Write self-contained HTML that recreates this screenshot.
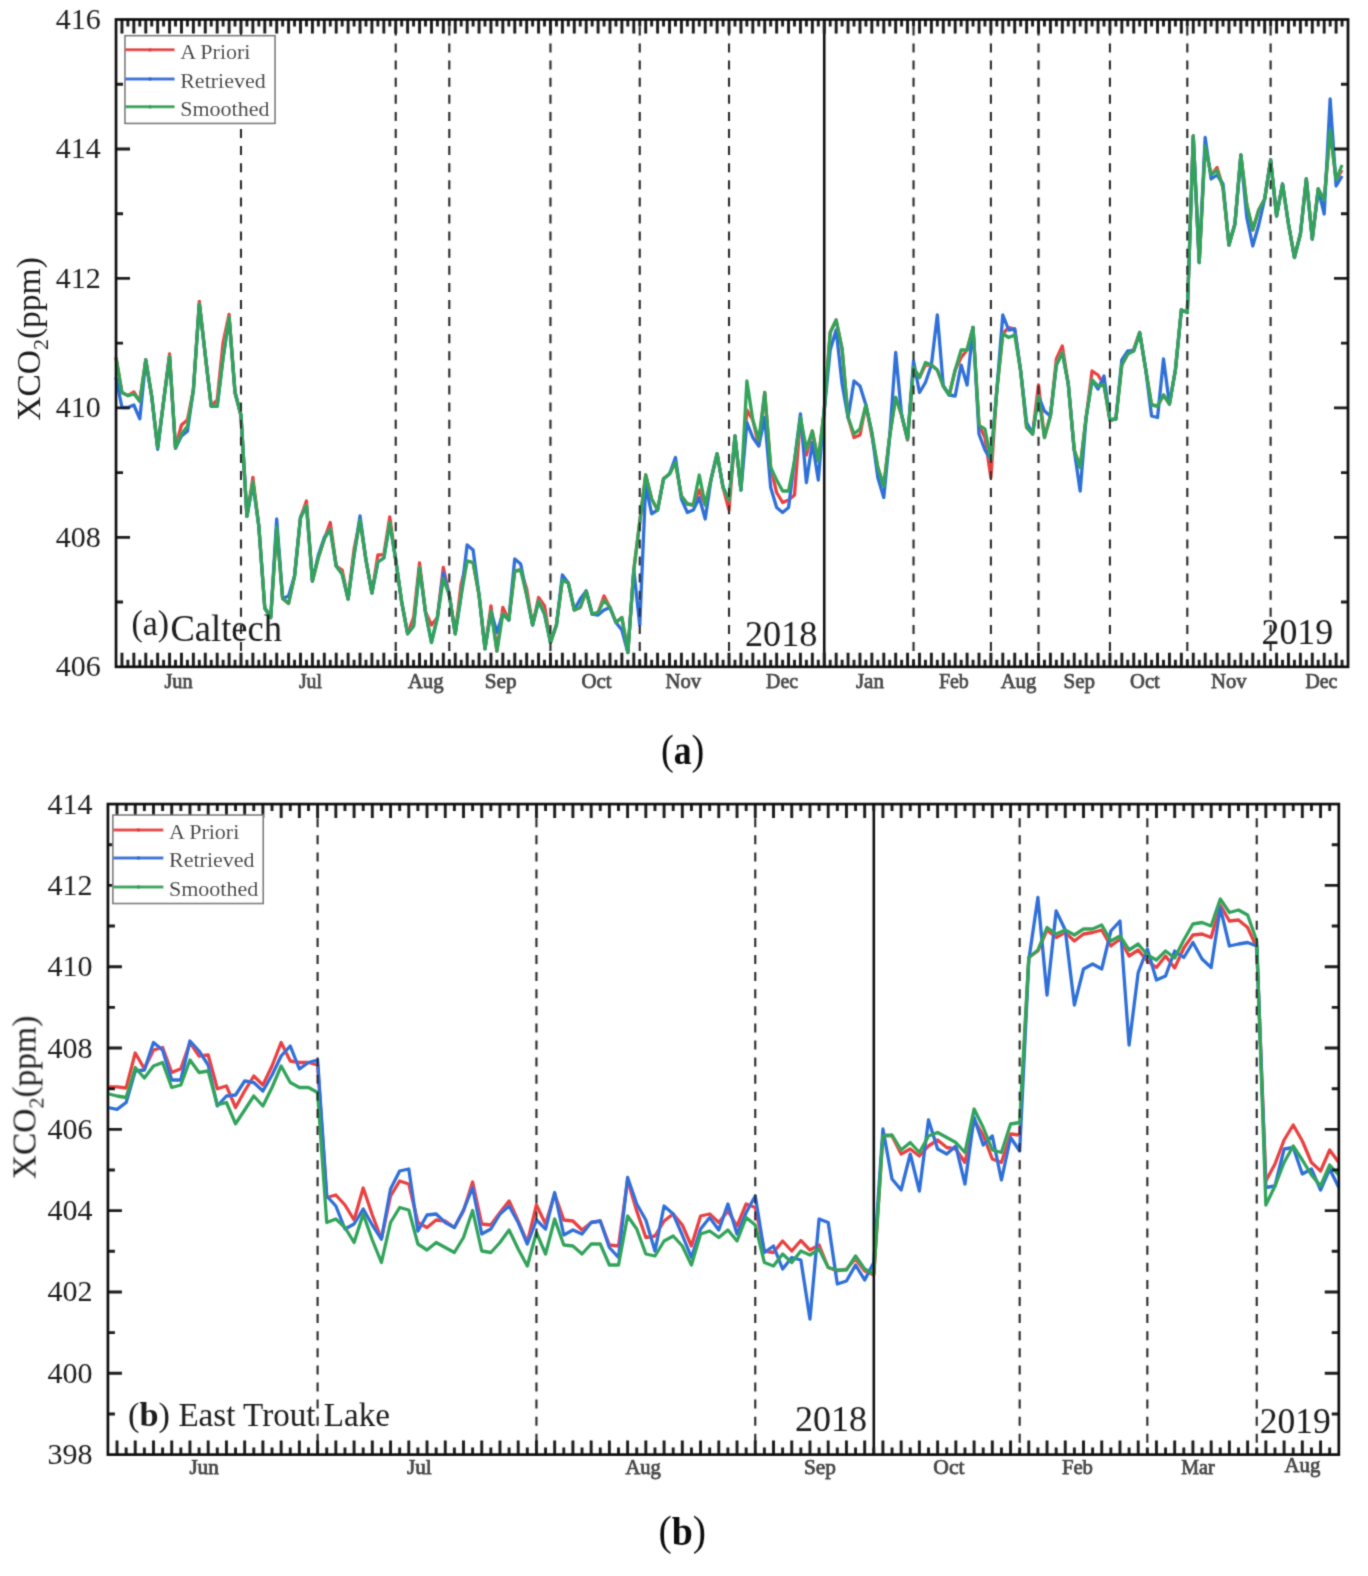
<!DOCTYPE html>
<html><head><meta charset="utf-8"><style>
html,body{margin:0;padding:0;background:#fff;}
svg{display:block;font-family:"Liberation Serif", serif;}
</style></head><body>
<svg width="1368" height="1576" viewBox="0 0 1368 1576">
<defs><filter id="soft" filterUnits="userSpaceOnUse" x="0" y="0" width="1368" height="1576"><feConvolveMatrix order="3" kernelMatrix="0.02768 0.11101 0.02768 0.11101 0.44521 0.11101 0.02768 0.11101 0.02768" edgeMode="duplicate" preserveAlpha="false"/></filter></defs>
<rect width="1368" height="1576" fill="#fff"/>
<g filter="url(#soft)">
<path d="M116.00 357.50L121.95 392.50L127.90 395.60L133.86 391.90L139.81 401.30L145.76 360.00L151.71 396.30L157.66 447.50L163.61 401.30L169.57 353.80L175.52 448.10L181.47 425.00L187.42 420.00L193.37 390.00L199.32 301.30L205.28 355.00L211.23 406.30L217.18 400.00L223.13 342.50L229.08 314.40L235.03 392.50L240.99 416.00L246.94 516.30L252.89 477.50L258.84 526.30L264.79 608.00L270.74 617.50L276.70 527.00L282.65 598.50L288.60 603.50L294.55 576.00L300.50 518.00L306.45 501.00L312.41 581.00L318.36 557.50L324.31 539.00L330.26 522.50L336.21 566.00L342.16 570.00L348.12 599.00L354.07 549.00L360.02 520.00L365.97 560.00L371.92 593.00L377.87 555.00L383.83 554.60L389.78 517.00L395.73 560.00L401.68 602.00L407.63 633.75L413.58 617.50L419.54 563.00L425.49 612.00L431.44 625.00L437.39 617.50L443.34 567.50L449.29 595.00L455.25 633.75L461.20 584.00L467.15 561.00L473.10 562.50L479.05 595.00L485.00 648.75L490.96 606.00L496.91 651.00L502.86 607.50L508.81 620.00L514.76 571.00L520.71 570.00L526.67 589.00L532.62 625.00L538.57 597.50L544.52 606.00L550.47 642.50L556.43 625.00L562.38 580.00L568.33 583.00L574.28 610.00L580.23 607.50L586.18 591.00L592.14 614.00L598.09 612.50L604.04 596.00L609.99 607.50L615.94 622.50L621.89 617.50L627.85 652.50L633.80 570.00L639.75 522.00L645.70 475.00L651.65 499.00L657.60 510.00L663.56 478.75L669.51 474.00L675.46 462.50L681.41 496.00L687.36 504.00L693.31 505.00L699.27 490.00L705.22 505.00L711.17 478.75L717.12 453.75L723.07 487.50L729.02 510.00L734.98 436.00L740.93 490.00L746.88 410.00L752.83 420.00L758.78 446.00L764.73 392.50L770.69 467.50L776.64 492.50L782.59 502.50L788.54 500.00L794.49 495.00L800.44 417.50L806.40 455.00L812.35 431.00L818.30 461.00L824.25 410.00L830.20 332.50L836.15 320.00L842.11 349.00L848.06 417.50L854.01 437.50L859.96 435.00L865.91 405.00L871.86 436.00L877.82 467.50L883.77 486.00L889.72 436.00L895.67 397.50L901.62 415.00L907.57 440.00L913.53 367.50L919.48 377.50L925.43 365.00L931.38 365.00L937.33 370.00L943.29 386.00L949.24 395.00L955.19 370.00L961.14 357.50L967.09 350.00L973.04 327.50L979.00 425.00L984.95 437.50L990.90 477.50L996.85 390.00L1002.80 333.75L1008.75 327.50L1014.71 329.00L1020.66 371.00L1026.61 427.50L1032.56 434.00L1038.51 385.00L1044.46 437.50L1050.42 416.00L1056.37 359.00L1062.32 346.00L1068.27 384.00L1074.22 450.00L1080.17 467.50L1086.13 417.50L1092.08 371.00L1098.03 375.00L1103.98 385.00L1109.93 420.00L1115.88 419.00L1121.84 365.00L1127.79 354.00L1133.74 349.00L1139.69 332.50L1145.64 369.00L1151.59 405.00L1157.55 406.00L1163.50 395.00L1169.45 404.00L1175.40 370.00L1181.35 310.00L1187.30 312.50L1193.26 136.00L1199.21 262.50L1205.16 146.00L1211.11 175.00L1217.06 167.50L1223.01 187.50L1228.97 245.00L1234.92 224.00L1240.87 155.00L1246.82 205.00L1252.77 230.00L1258.72 210.00L1264.68 199.00L1270.63 160.00L1276.58 216.00L1282.53 184.00L1288.48 224.00L1294.43 257.50L1300.39 234.00L1306.34 179.00L1312.29 239.00L1318.24 189.00L1324.19 200.00L1330.14 130.00L1336.10 180.00L1342.05 170.00" stroke="#e8413f" stroke-width="3.3" fill="none" stroke-linejoin="round"/>
<path d="M116.00 377.50L121.95 407.50L127.90 407.50L133.86 405.00L139.81 418.80L145.76 360.00L151.71 396.30L157.66 449.40L163.61 401.30L169.57 356.30L175.52 448.10L181.47 436.00L187.42 431.30L193.37 390.00L199.32 303.80L205.28 355.00L211.23 406.30L217.18 406.30L223.13 357.50L229.08 317.50L235.03 392.50L240.99 415.00L246.94 516.30L252.89 484.00L258.84 526.30L264.79 608.00L270.74 617.50L276.70 519.00L282.65 598.50L288.60 596.00L294.55 576.00L300.50 517.00L306.45 505.50L312.41 581.00L318.36 555.00L324.31 537.50L330.26 529.00L336.21 566.00L342.16 574.00L348.12 599.00L354.07 555.00L360.02 516.00L365.97 560.00L371.92 593.00L377.87 562.00L383.83 558.00L389.78 522.50L395.73 560.00L401.68 602.00L407.63 633.75L413.58 626.00L419.54 567.50L425.49 612.00L431.44 642.50L437.39 617.50L443.34 572.50L449.29 595.00L455.25 633.75L461.20 595.00L467.15 545.00L473.10 550.00L479.05 595.00L485.00 648.75L490.96 611.00L496.91 632.50L502.86 613.75L508.81 620.00L514.76 559.00L520.71 564.00L526.67 595.00L532.62 625.00L538.57 601.00L544.52 614.00L550.47 642.50L556.43 625.00L562.38 575.00L568.33 583.00L574.28 610.00L580.23 599.00L586.18 591.00L592.14 614.00L598.09 615.00L604.04 610.00L609.99 607.50L615.94 622.50L621.89 630.00L627.85 652.50L633.80 570.00L639.75 625.00L645.70 485.00L651.65 513.75L657.60 510.00L663.56 478.75L669.51 474.00L675.46 457.50L681.41 499.00L687.36 512.50L693.31 510.00L699.27 497.50L705.22 519.00L711.17 478.75L717.12 453.75L723.07 487.50L729.02 500.00L734.98 436.00L740.93 490.00L746.88 422.50L752.83 437.50L758.78 446.00L764.73 417.50L770.69 487.50L776.64 507.50L782.59 512.50L788.54 507.50L794.49 461.00L800.44 414.00L806.40 482.50L812.35 442.50L818.30 480.00L824.25 410.00L830.20 350.00L836.15 330.00L842.11 384.00L848.06 417.50L854.01 381.00L859.96 386.00L865.91 405.00L871.86 432.50L877.82 477.50L883.77 497.50L889.72 436.00L895.67 352.50L901.62 415.00L907.57 439.00L913.53 361.00L919.48 392.50L925.43 382.50L931.38 365.00L937.33 315.00L943.29 386.00L949.24 395.00L955.19 396.00L961.14 365.00L967.09 385.00L973.04 327.50L979.00 434.00L984.95 450.00L990.90 460.00L996.85 390.00L1002.80 315.00L1008.75 330.00L1014.71 329.00L1020.66 371.00L1026.61 422.50L1032.56 434.00L1038.51 396.00L1044.46 411.00L1050.42 416.00L1056.37 365.00L1062.32 352.50L1068.27 384.00L1074.22 450.00L1080.17 491.00L1086.13 417.50L1092.08 380.00L1098.03 389.00L1103.98 376.00L1109.93 420.00L1115.88 419.00L1121.84 360.00L1127.79 351.00L1133.74 351.00L1139.69 332.50L1145.64 369.00L1151.59 416.00L1157.55 417.50L1163.50 359.00L1169.45 404.00L1175.40 370.00L1181.35 310.00L1187.30 312.50L1193.26 136.00L1199.21 262.50L1205.16 137.50L1211.11 179.00L1217.06 175.00L1223.01 184.00L1228.97 245.00L1234.92 224.00L1240.87 155.00L1246.82 217.50L1252.77 246.00L1258.72 225.00L1264.68 199.00L1270.63 160.00L1276.58 216.00L1282.53 184.00L1288.48 224.00L1294.43 257.50L1300.39 234.00L1306.34 179.00L1312.29 239.00L1318.24 189.00L1324.19 214.00L1330.14 99.00L1336.10 186.00L1342.05 176.00" stroke="#2f6fd8" stroke-width="3.3" fill="none" stroke-linejoin="round"/>
<path d="M116.00 357.50L121.95 392.50L127.90 395.60L133.86 393.80L139.81 401.30L145.76 360.00L151.71 396.30L157.66 447.50L163.61 401.30L169.57 356.30L175.52 448.10L181.47 433.80L187.42 426.30L193.37 390.00L199.32 303.80L205.28 355.00L211.23 406.30L217.18 406.30L223.13 357.50L229.08 317.50L235.03 392.50L240.99 415.00L246.94 516.30L252.89 481.30L258.84 526.30L264.79 608.00L270.74 617.50L276.70 527.00L282.65 598.50L288.60 603.50L294.55 576.00L300.50 518.00L306.45 505.50L312.41 581.00L318.36 557.50L324.31 539.00L330.26 529.00L336.21 566.00L342.16 574.00L348.12 599.00L354.07 555.00L360.02 520.00L365.97 560.00L371.92 593.00L377.87 562.00L383.83 558.00L389.78 522.50L395.73 560.00L401.68 602.00L407.63 633.75L413.58 626.00L419.54 567.50L425.49 612.00L431.44 642.50L437.39 617.50L443.34 578.75L449.29 595.00L455.25 633.75L461.20 595.00L467.15 561.00L473.10 562.50L479.05 595.00L485.00 648.75L490.96 611.00L496.91 651.00L502.86 613.75L508.81 620.00L514.76 571.00L520.71 570.00L526.67 595.00L532.62 625.00L538.57 601.00L544.52 614.00L550.47 642.50L556.43 625.00L562.38 580.00L568.33 583.00L574.28 610.00L580.23 607.50L586.18 591.00L592.14 614.00L598.09 612.50L604.04 600.00L609.99 607.50L615.94 622.50L621.89 617.50L627.85 652.50L633.80 570.00L639.75 522.00L645.70 475.00L651.65 499.00L657.60 510.00L663.56 478.75L669.51 474.00L675.46 462.50L681.41 496.00L687.36 504.00L693.31 505.00L699.27 475.00L705.22 505.00L711.17 478.75L717.12 453.75L723.07 487.50L729.02 500.00L734.98 436.00L740.93 490.00L746.88 381.00L752.83 420.00L758.78 440.00L764.73 392.50L770.69 467.50L776.64 480.00L782.59 491.00L788.54 491.00L794.49 461.00L800.44 417.50L806.40 449.00L812.35 431.00L818.30 461.00L824.25 410.00L830.20 332.50L836.15 320.00L842.11 349.00L848.06 417.50L854.01 434.00L859.96 429.00L865.91 405.00L871.86 432.50L877.82 467.50L883.77 486.00L889.72 436.00L895.67 397.50L901.62 415.00L907.57 439.00L913.53 367.50L919.48 377.50L925.43 362.50L931.38 365.00L937.33 370.00L943.29 386.00L949.24 395.00L955.19 370.00L961.14 350.00L967.09 350.00L973.04 327.50L979.00 425.00L984.95 429.00L990.90 460.00L996.85 390.00L1002.80 333.75L1008.75 337.50L1014.71 335.00L1020.66 371.00L1026.61 427.50L1032.56 434.00L1038.51 396.00L1044.46 437.50L1050.42 416.00L1056.37 365.00L1062.32 352.50L1068.27 384.00L1074.22 450.00L1080.17 467.50L1086.13 417.50L1092.08 380.00L1098.03 386.00L1103.98 385.00L1109.93 420.00L1115.88 419.00L1121.84 365.00L1127.79 354.00L1133.74 351.00L1139.69 332.50L1145.64 369.00L1151.59 405.00L1157.55 406.00L1163.50 395.00L1169.45 404.00L1175.40 370.00L1181.35 310.00L1187.30 312.50L1193.26 136.00L1199.21 262.50L1205.16 146.00L1211.11 175.00L1217.06 170.00L1223.01 187.50L1228.97 245.00L1234.92 224.00L1240.87 155.00L1246.82 205.00L1252.77 230.00L1258.72 210.00L1264.68 199.00L1270.63 160.00L1276.58 216.00L1282.53 184.00L1288.48 224.00L1294.43 257.50L1300.39 234.00L1306.34 179.00L1312.29 239.00L1318.24 189.00L1324.19 200.00L1330.14 130.00L1336.10 180.00L1342.05 165.00" stroke="#32a35a" stroke-width="3.3" fill="none" stroke-linejoin="round"/>
<path d="M240.99 26.40V665.80M395.73 26.40V665.80M449.29 26.40V665.80M550.47 26.40V665.80M639.75 26.40V665.80M729.02 26.40V665.80M913.53 26.40V665.80M990.90 26.40V665.80M1038.51 26.40V665.80M1109.93 26.40V665.80M1187.30 26.40V665.80M1270.63 26.40V665.80" stroke="#2a2a2a" stroke-width="2.1" stroke-dasharray="9 8.1" fill="none"/>
<path d="M824.25 19.50V666.80" stroke="#111" stroke-width="2.6"/>
<path d="M121.95 666.80V652.80M121.95 19.50V33.50M127.90 666.80V659.80M127.90 19.50V26.50M133.86 666.80V652.80M133.86 19.50V33.50M139.81 666.80V659.80M139.81 19.50V26.50M145.76 666.80V652.80M145.76 19.50V33.50M151.71 666.80V659.80M151.71 19.50V26.50M157.66 666.80V652.80M157.66 19.50V33.50M163.61 666.80V659.80M163.61 19.50V26.50M169.57 666.80V652.80M169.57 19.50V33.50M175.52 666.80V659.80M175.52 19.50V26.50M181.47 666.80V652.80M181.47 19.50V33.50M187.42 666.80V659.80M187.42 19.50V26.50M193.37 666.80V652.80M193.37 19.50V33.50M199.32 666.80V659.80M199.32 19.50V26.50M205.28 666.80V652.80M205.28 19.50V33.50M211.23 666.80V659.80M211.23 19.50V26.50M217.18 666.80V652.80M217.18 19.50V33.50M223.13 666.80V659.80M223.13 19.50V26.50M229.08 666.80V652.80M229.08 19.50V33.50M235.03 666.80V659.80M235.03 19.50V26.50M240.99 666.80V652.80M240.99 19.50V33.50M246.94 666.80V659.80M246.94 19.50V26.50M252.89 666.80V652.80M252.89 19.50V33.50M258.84 666.80V659.80M258.84 19.50V26.50M264.79 666.80V652.80M264.79 19.50V33.50M270.74 666.80V659.80M270.74 19.50V26.50M276.70 666.80V652.80M276.70 19.50V33.50M282.65 666.80V659.80M282.65 19.50V26.50M288.60 666.80V652.80M288.60 19.50V33.50M294.55 666.80V659.80M294.55 19.50V26.50M300.50 666.80V652.80M300.50 19.50V33.50M306.45 666.80V659.80M306.45 19.50V26.50M312.41 666.80V652.80M312.41 19.50V33.50M318.36 666.80V659.80M318.36 19.50V26.50M324.31 666.80V652.80M324.31 19.50V33.50M330.26 666.80V659.80M330.26 19.50V26.50M336.21 666.80V652.80M336.21 19.50V33.50M342.16 666.80V659.80M342.16 19.50V26.50M348.12 666.80V652.80M348.12 19.50V33.50M354.07 666.80V659.80M354.07 19.50V26.50M360.02 666.80V652.80M360.02 19.50V33.50M365.97 666.80V659.80M365.97 19.50V26.50M371.92 666.80V652.80M371.92 19.50V33.50M377.87 666.80V659.80M377.87 19.50V26.50M383.83 666.80V652.80M383.83 19.50V33.50M389.78 666.80V659.80M389.78 19.50V26.50M395.73 666.80V652.80M395.73 19.50V33.50M401.68 666.80V659.80M401.68 19.50V26.50M407.63 666.80V652.80M407.63 19.50V33.50M413.58 666.80V659.80M413.58 19.50V26.50M419.54 666.80V652.80M419.54 19.50V33.50M425.49 666.80V659.80M425.49 19.50V26.50M431.44 666.80V652.80M431.44 19.50V33.50M437.39 666.80V659.80M437.39 19.50V26.50M443.34 666.80V652.80M443.34 19.50V33.50M449.29 666.80V659.80M449.29 19.50V26.50M455.25 666.80V652.80M455.25 19.50V33.50M461.20 666.80V659.80M461.20 19.50V26.50M467.15 666.80V652.80M467.15 19.50V33.50M473.10 666.80V659.80M473.10 19.50V26.50M479.05 666.80V652.80M479.05 19.50V33.50M485.00 666.80V659.80M485.00 19.50V26.50M490.96 666.80V652.80M490.96 19.50V33.50M496.91 666.80V659.80M496.91 19.50V26.50M502.86 666.80V652.80M502.86 19.50V33.50M508.81 666.80V659.80M508.81 19.50V26.50M514.76 666.80V652.80M514.76 19.50V33.50M520.71 666.80V659.80M520.71 19.50V26.50M526.67 666.80V652.80M526.67 19.50V33.50M532.62 666.80V659.80M532.62 19.50V26.50M538.57 666.80V652.80M538.57 19.50V33.50M544.52 666.80V659.80M544.52 19.50V26.50M550.47 666.80V652.80M550.47 19.50V33.50M556.43 666.80V659.80M556.43 19.50V26.50M562.38 666.80V652.80M562.38 19.50V33.50M568.33 666.80V659.80M568.33 19.50V26.50M574.28 666.80V652.80M574.28 19.50V33.50M580.23 666.80V659.80M580.23 19.50V26.50M586.18 666.80V652.80M586.18 19.50V33.50M592.14 666.80V659.80M592.14 19.50V26.50M598.09 666.80V652.80M598.09 19.50V33.50M604.04 666.80V659.80M604.04 19.50V26.50M609.99 666.80V652.80M609.99 19.50V33.50M615.94 666.80V659.80M615.94 19.50V26.50M621.89 666.80V652.80M621.89 19.50V33.50M627.85 666.80V659.80M627.85 19.50V26.50M633.80 666.80V652.80M633.80 19.50V33.50M639.75 666.80V659.80M639.75 19.50V26.50M645.70 666.80V652.80M645.70 19.50V33.50M651.65 666.80V659.80M651.65 19.50V26.50M657.60 666.80V652.80M657.60 19.50V33.50M663.56 666.80V659.80M663.56 19.50V26.50M669.51 666.80V652.80M669.51 19.50V33.50M675.46 666.80V659.80M675.46 19.50V26.50M681.41 666.80V652.80M681.41 19.50V33.50M687.36 666.80V659.80M687.36 19.50V26.50M693.31 666.80V652.80M693.31 19.50V33.50M699.27 666.80V659.80M699.27 19.50V26.50M705.22 666.80V652.80M705.22 19.50V33.50M711.17 666.80V659.80M711.17 19.50V26.50M717.12 666.80V652.80M717.12 19.50V33.50M723.07 666.80V659.80M723.07 19.50V26.50M729.02 666.80V652.80M729.02 19.50V33.50M734.98 666.80V659.80M734.98 19.50V26.50M740.93 666.80V652.80M740.93 19.50V33.50M746.88 666.80V659.80M746.88 19.50V26.50M752.83 666.80V652.80M752.83 19.50V33.50M758.78 666.80V659.80M758.78 19.50V26.50M764.73 666.80V652.80M764.73 19.50V33.50M770.69 666.80V659.80M770.69 19.50V26.50M776.64 666.80V652.80M776.64 19.50V33.50M782.59 666.80V659.80M782.59 19.50V26.50M788.54 666.80V652.80M788.54 19.50V33.50M794.49 666.80V659.80M794.49 19.50V26.50M800.44 666.80V652.80M800.44 19.50V33.50M806.40 666.80V659.80M806.40 19.50V26.50M812.35 666.80V652.80M812.35 19.50V33.50M818.30 666.80V659.80M818.30 19.50V26.50M824.25 666.80V652.80M824.25 19.50V33.50M830.20 666.80V659.80M830.20 19.50V26.50M836.15 666.80V652.80M836.15 19.50V33.50M842.11 666.80V659.80M842.11 19.50V26.50M848.06 666.80V652.80M848.06 19.50V33.50M854.01 666.80V659.80M854.01 19.50V26.50M859.96 666.80V652.80M859.96 19.50V33.50M865.91 666.80V659.80M865.91 19.50V26.50M871.86 666.80V652.80M871.86 19.50V33.50M877.82 666.80V659.80M877.82 19.50V26.50M883.77 666.80V652.80M883.77 19.50V33.50M889.72 666.80V659.80M889.72 19.50V26.50M895.67 666.80V652.80M895.67 19.50V33.50M901.62 666.80V659.80M901.62 19.50V26.50M907.57 666.80V652.80M907.57 19.50V33.50M913.53 666.80V659.80M913.53 19.50V26.50M919.48 666.80V652.80M919.48 19.50V33.50M925.43 666.80V659.80M925.43 19.50V26.50M931.38 666.80V652.80M931.38 19.50V33.50M937.33 666.80V659.80M937.33 19.50V26.50M943.29 666.80V652.80M943.29 19.50V33.50M949.24 666.80V659.80M949.24 19.50V26.50M955.19 666.80V652.80M955.19 19.50V33.50M961.14 666.80V659.80M961.14 19.50V26.50M967.09 666.80V652.80M967.09 19.50V33.50M973.04 666.80V659.80M973.04 19.50V26.50M979.00 666.80V652.80M979.00 19.50V33.50M984.95 666.80V659.80M984.95 19.50V26.50M990.90 666.80V652.80M990.90 19.50V33.50M996.85 666.80V659.80M996.85 19.50V26.50M1002.80 666.80V652.80M1002.80 19.50V33.50M1008.75 666.80V659.80M1008.75 19.50V26.50M1014.71 666.80V652.80M1014.71 19.50V33.50M1020.66 666.80V659.80M1020.66 19.50V26.50M1026.61 666.80V652.80M1026.61 19.50V33.50M1032.56 666.80V659.80M1032.56 19.50V26.50M1038.51 666.80V652.80M1038.51 19.50V33.50M1044.46 666.80V659.80M1044.46 19.50V26.50M1050.42 666.80V652.80M1050.42 19.50V33.50M1056.37 666.80V659.80M1056.37 19.50V26.50M1062.32 666.80V652.80M1062.32 19.50V33.50M1068.27 666.80V659.80M1068.27 19.50V26.50M1074.22 666.80V652.80M1074.22 19.50V33.50M1080.17 666.80V659.80M1080.17 19.50V26.50M1086.13 666.80V652.80M1086.13 19.50V33.50M1092.08 666.80V659.80M1092.08 19.50V26.50M1098.03 666.80V652.80M1098.03 19.50V33.50M1103.98 666.80V659.80M1103.98 19.50V26.50M1109.93 666.80V652.80M1109.93 19.50V33.50M1115.88 666.80V659.80M1115.88 19.50V26.50M1121.84 666.80V652.80M1121.84 19.50V33.50M1127.79 666.80V659.80M1127.79 19.50V26.50M1133.74 666.80V652.80M1133.74 19.50V33.50M1139.69 666.80V659.80M1139.69 19.50V26.50M1145.64 666.80V652.80M1145.64 19.50V33.50M1151.59 666.80V659.80M1151.59 19.50V26.50M1157.55 666.80V652.80M1157.55 19.50V33.50M1163.50 666.80V659.80M1163.50 19.50V26.50M1169.45 666.80V652.80M1169.45 19.50V33.50M1175.40 666.80V659.80M1175.40 19.50V26.50M1181.35 666.80V652.80M1181.35 19.50V33.50M1187.30 666.80V659.80M1187.30 19.50V26.50M1193.26 666.80V652.80M1193.26 19.50V33.50M1199.21 666.80V659.80M1199.21 19.50V26.50M1205.16 666.80V652.80M1205.16 19.50V33.50M1211.11 666.80V659.80M1211.11 19.50V26.50M1217.06 666.80V652.80M1217.06 19.50V33.50M1223.01 666.80V659.80M1223.01 19.50V26.50M1228.97 666.80V652.80M1228.97 19.50V33.50M1234.92 666.80V659.80M1234.92 19.50V26.50M1240.87 666.80V652.80M1240.87 19.50V33.50M1246.82 666.80V659.80M1246.82 19.50V26.50M1252.77 666.80V652.80M1252.77 19.50V33.50M1258.72 666.80V659.80M1258.72 19.50V26.50M1264.68 666.80V652.80M1264.68 19.50V33.50M1270.63 666.80V659.80M1270.63 19.50V26.50M1276.58 666.80V652.80M1276.58 19.50V33.50M1282.53 666.80V659.80M1282.53 19.50V26.50M1288.48 666.80V652.80M1288.48 19.50V33.50M1294.43 666.80V659.80M1294.43 19.50V26.50M1300.39 666.80V652.80M1300.39 19.50V33.50M1306.34 666.80V659.80M1306.34 19.50V26.50M1312.29 666.80V652.80M1312.29 19.50V33.50M1318.24 666.80V659.80M1318.24 19.50V26.50M1324.19 666.80V652.80M1324.19 19.50V33.50M1330.14 666.80V659.80M1330.14 19.50V26.50M1336.10 666.80V652.80M1336.10 19.50V33.50M1342.05 666.80V659.80M1342.05 19.50V26.50M116.00 602.07H123.00M1348.00 602.07H1341.00M116.00 537.34H130.00M1348.00 537.34H1334.00M116.00 472.61H123.00M1348.00 472.61H1341.00M116.00 407.88H130.00M1348.00 407.88H1334.00M116.00 343.15H123.00M1348.00 343.15H1341.00M116.00 278.42H130.00M1348.00 278.42H1334.00M116.00 213.69H123.00M1348.00 213.69H1341.00M116.00 148.96H130.00M1348.00 148.96H1334.00M116.00 84.23H123.00M1348.00 84.23H1341.00" stroke="#1a1a1a" stroke-width="2.9" fill="none"/>
<rect x="116.00" y="19.50" width="1232.00" height="647.30" fill="none" stroke="#111" stroke-width="2.7"/>
<rect x="125" y="35.7" width="150" height="87.7" fill="#fff" stroke="#777" stroke-width="1.6"/>
<path d="M125.5 49.7H174.6" stroke="#e8413f" stroke-width="3"/>
<circle cx="150.05" cy="49.7" r="2" fill="#e8413f"/>
<text x="180.2" y="59.160000000000004" font-size="22" text-anchor="start" font-weight="normal" fill="#2a2a2a" >A Priori</text>
<path d="M125.5 78.9H174.6" stroke="#2f6fd8" stroke-width="3"/>
<circle cx="150.05" cy="78.9" r="2" fill="#2f6fd8"/>
<text x="180.2" y="88.36" font-size="22" text-anchor="start" font-weight="normal" fill="#2a2a2a" >Retrieved</text>
<path d="M125.5 106.7H174.6" stroke="#32a35a" stroke-width="3"/>
<circle cx="150.05" cy="106.7" r="2" fill="#32a35a"/>
<text x="180.2" y="116.16" font-size="22" text-anchor="start" font-weight="normal" fill="#2a2a2a" >Smoothed</text>
<text x="100.8" y="676.3" font-size="30" text-anchor="end" font-weight="normal" fill="#1f1f1f" >406</text>
<text x="100.8" y="546.8399999999999" font-size="30" text-anchor="end" font-weight="normal" fill="#1f1f1f" >408</text>
<text x="100.8" y="417.38" font-size="30" text-anchor="end" font-weight="normal" fill="#1f1f1f" >410</text>
<text x="100.8" y="287.91999999999996" font-size="30" text-anchor="end" font-weight="normal" fill="#1f1f1f" >412</text>
<text x="100.8" y="158.45999999999998" font-size="30" text-anchor="end" font-weight="normal" fill="#1f1f1f" >414</text>
<text x="100.8" y="29.0" font-size="30" text-anchor="end" font-weight="normal" fill="#1f1f1f" >416</text>
<text transform="translate(40 339) rotate(-90)" font-size="33.5" text-anchor="middle" fill="#1f1f1f">XCO<tspan font-size="22" dy="8">2</tspan><tspan dy="-8">(ppm)</tspan></text>
<text x="178.5" y="687.5" font-size="21" text-anchor="middle" font-weight="normal" fill="#474747" stroke="#474747" stroke-width="0.75" textLength="28.2" lengthAdjust="spacingAndGlyphs">Jun</text>
<text x="310.45" y="687.5" font-size="21" text-anchor="middle" font-weight="normal" fill="#474747" stroke="#474747" stroke-width="0.75" textLength="23.1" lengthAdjust="spacingAndGlyphs">Jul</text>
<text x="425.7" y="687.5" font-size="21" text-anchor="middle" font-weight="normal" fill="#474747" stroke="#474747" stroke-width="0.75" textLength="35.6" lengthAdjust="spacingAndGlyphs">Aug</text>
<text x="500.6" y="687.5" font-size="21" text-anchor="middle" font-weight="normal" fill="#474747" stroke="#474747" stroke-width="0.75" textLength="31.8" lengthAdjust="spacingAndGlyphs">Sep</text>
<text x="596.5" y="687.5" font-size="21" text-anchor="middle" font-weight="normal" fill="#474747" stroke="#474747" stroke-width="0.75" textLength="30.0" lengthAdjust="spacingAndGlyphs">Oct</text>
<text x="683.3" y="687.5" font-size="21" text-anchor="middle" font-weight="normal" fill="#474747" stroke="#474747" stroke-width="0.75" textLength="35.6" lengthAdjust="spacingAndGlyphs">Nov</text>
<text x="782.05" y="687.5" font-size="21" text-anchor="middle" font-weight="normal" fill="#474747" stroke="#474747" stroke-width="0.75" textLength="31.9" lengthAdjust="spacingAndGlyphs">Dec</text>
<text x="869.9" y="687.5" font-size="21" text-anchor="middle" font-weight="normal" fill="#474747" stroke="#474747" stroke-width="0.75" textLength="28.0" lengthAdjust="spacingAndGlyphs">Jan</text>
<text x="953.8499999999999" y="687.5" font-size="21" text-anchor="middle" font-weight="normal" fill="#474747" stroke="#474747" stroke-width="0.75" textLength="29.9" lengthAdjust="spacingAndGlyphs">Feb</text>
<text x="1018.5" y="687.5" font-size="21" text-anchor="middle" font-weight="normal" fill="#474747" stroke="#474747" stroke-width="0.75" textLength="35.6" lengthAdjust="spacingAndGlyphs">Aug</text>
<text x="1079.25" y="687.5" font-size="21" text-anchor="middle" font-weight="normal" fill="#474747" stroke="#474747" stroke-width="0.75" textLength="31.5" lengthAdjust="spacingAndGlyphs">Sep</text>
<text x="1144.9" y="687.5" font-size="21" text-anchor="middle" font-weight="normal" fill="#474747" stroke="#474747" stroke-width="0.75" textLength="29.8" lengthAdjust="spacingAndGlyphs">Oct</text>
<text x="1228.85" y="687.5" font-size="21" text-anchor="middle" font-weight="normal" fill="#474747" stroke="#474747" stroke-width="0.75" textLength="35.7" lengthAdjust="spacingAndGlyphs">Nov</text>
<text x="1321.45" y="687.5" font-size="21" text-anchor="middle" font-weight="normal" fill="#474747" stroke="#474747" stroke-width="0.75" textLength="31.9" lengthAdjust="spacingAndGlyphs">Dec</text>
<text x="131.5" y="635.3" font-size="35" text-anchor="start" font-weight="normal" fill="#1a1a1a" textLength="37.5" lengthAdjust="spacingAndGlyphs">(a)</text>
<text x="170.5" y="640.5" font-size="37.5" text-anchor="start" font-weight="normal" fill="#1a1a1a" textLength="111.5" lengthAdjust="spacingAndGlyphs">Caltech</text>
<text x="745" y="645.5" font-size="36" text-anchor="start" font-weight="normal" fill="#1a1a1a" textLength="72.4" lengthAdjust="spacingAndGlyphs">2018</text>
<text x="1261.5" y="643.5" font-size="36" text-anchor="start" font-weight="normal" fill="#1a1a1a" textLength="71.5" lengthAdjust="spacingAndGlyphs">2019</text>
<text x="660.9" y="763.5" font-size="42" text-anchor="start" font-weight="normal" fill="#111" textLength="43.5" lengthAdjust="spacingAndGlyphs">(<tspan font-weight="bold" font-size="39">a</tspan>)</text>
<path d="M107.90 1086.90L117.02 1086.90L126.14 1088.00L135.25 1053.00L144.37 1068.75L153.49 1050.00L162.61 1047.50L171.72 1072.50L180.84 1068.75L189.96 1042.50L199.08 1056.00L208.20 1055.00L217.31 1088.75L226.43 1086.00L235.55 1107.50L244.67 1091.00L253.78 1076.00L262.90 1085.00L272.02 1066.00L281.14 1042.50L290.26 1061.00L299.37 1062.50L308.49 1062.50L317.61 1065.00L326.73 1197.50L335.84 1195.00L344.96 1205.00L354.08 1220.00L363.20 1188.00L372.32 1215.00L381.43 1239.00L390.55 1196.00L399.67 1181.00L408.79 1184.00L417.90 1222.50L427.02 1227.50L436.14 1220.00L445.26 1221.00L454.38 1227.50L463.49 1211.00L472.61 1182.00L481.73 1224.00L490.85 1225.00L499.96 1212.50L509.08 1201.00L518.20 1221.00L527.32 1242.50L536.44 1205.00L545.55 1224.00L554.67 1194.00L563.79 1220.00L572.91 1221.00L582.02 1230.00L591.14 1222.50L600.26 1221.00L609.38 1245.00L618.50 1246.00L627.61 1180.00L636.73 1211.00L645.85 1237.50L654.97 1236.00L664.08 1221.00L673.20 1214.00L682.32 1225.00L691.44 1246.00L700.56 1216.00L709.67 1214.00L718.79 1222.50L727.91 1211.00L737.03 1226.00L746.14 1204.00L755.26 1207.50L764.38 1251.00L773.50 1252.50L782.62 1241.00L791.73 1251.00L800.85 1240.50L809.97 1250.00L819.09 1245.00L828.20 1267.50L837.32 1271.00L846.44 1269.00L855.56 1259.00L864.68 1271.00L873.79 1275.00L882.91 1135.00L892.03 1136.00L901.15 1154.00L910.26 1149.00L919.38 1156.00L928.50 1146.00L937.62 1140.00L946.74 1147.50L955.85 1149.00L964.97 1162.50L974.09 1120.00L983.21 1135.00L992.32 1159.00L1001.44 1162.50L1010.56 1134.00L1019.68 1135.00L1028.80 957.50L1037.91 951.00L1047.03 930.00L1056.15 937.50L1065.27 932.50L1074.38 941.00L1083.50 934.00L1092.62 932.50L1101.74 930.00L1110.86 946.00L1119.97 939.00L1129.09 956.00L1138.21 950.00L1147.33 961.00L1156.44 967.50L1165.56 956.00L1174.68 968.00L1183.80 948.00L1192.92 935.00L1202.03 934.00L1211.15 937.50L1220.27 905.00L1229.39 921.00L1238.50 920.00L1247.62 927.50L1256.74 947.50L1265.86 1181.00L1274.98 1164.00L1284.09 1140.00L1293.21 1125.00L1302.33 1141.00L1311.45 1162.50L1320.56 1171.00L1329.68 1150.00L1338.80 1162.50" stroke="#e8413f" stroke-width="3.3" fill="none" stroke-linejoin="round"/>
<path d="M107.90 1107.50L117.02 1109.40L126.14 1102.50L135.25 1071.00L144.37 1070.00L153.49 1042.50L162.61 1050.00L171.72 1080.00L180.84 1080.00L189.96 1041.00L199.08 1051.00L208.20 1065.00L217.31 1106.00L226.43 1096.00L235.55 1095.00L244.67 1081.00L253.78 1082.50L262.90 1091.00L272.02 1075.00L281.14 1056.00L290.26 1046.00L299.37 1069.00L308.49 1062.50L317.61 1060.00L326.73 1196.00L335.84 1206.00L344.96 1229.00L354.08 1224.00L363.20 1209.00L372.32 1225.00L381.43 1239.00L390.55 1189.00L399.67 1171.00L408.79 1169.00L417.90 1231.00L427.02 1215.00L436.14 1214.00L445.26 1222.50L454.38 1227.50L463.49 1210.00L472.61 1187.50L481.73 1234.00L490.85 1229.00L499.96 1214.00L509.08 1206.00L518.20 1222.50L527.32 1244.00L536.44 1220.00L545.55 1229.00L554.67 1192.50L563.79 1235.00L572.91 1230.00L582.02 1234.00L591.14 1222.50L600.26 1221.00L609.38 1247.50L618.50 1257.50L627.61 1177.50L636.73 1204.00L645.85 1220.00L654.97 1251.00L664.08 1206.00L673.20 1214.00L682.32 1235.00L691.44 1257.50L700.56 1229.00L709.67 1217.50L718.79 1230.00L727.91 1204.00L737.03 1234.00L746.14 1212.50L755.26 1196.00L764.38 1252.50L773.50 1246.00L782.62 1269.00L791.73 1257.50L800.85 1260.00L809.97 1319.00L819.09 1219.00L828.20 1222.50L837.32 1284.00L846.44 1281.00L855.56 1265.00L864.68 1280.00L873.79 1262.50L882.91 1129.00L892.03 1179.00L901.15 1190.00L910.26 1154.00L919.38 1191.00L928.50 1120.00L937.62 1149.00L946.74 1154.00L955.85 1146.00L964.97 1184.00L974.09 1117.50L983.21 1145.00L992.32 1136.00L1001.44 1180.00L1010.56 1137.50L1019.68 1151.00L1028.80 960.00L1037.91 897.50L1047.03 995.00L1056.15 911.00L1065.27 930.00L1074.38 1005.00L1083.50 969.00L1092.62 964.00L1101.74 969.00L1110.86 931.00L1119.97 921.00L1129.09 1045.00L1138.21 972.50L1147.33 949.00L1156.44 980.00L1165.56 976.00L1174.68 951.00L1183.80 957.50L1192.92 942.50L1202.03 959.00L1211.15 967.50L1220.27 907.50L1229.39 946.00L1238.50 944.00L1247.62 942.50L1256.74 946.00L1265.86 1187.50L1274.98 1186.00L1284.09 1149.00L1293.21 1147.50L1302.33 1174.00L1311.45 1169.00L1320.56 1190.00L1329.68 1169.00L1338.80 1187.50" stroke="#2f6fd8" stroke-width="3.3" fill="none" stroke-linejoin="round"/>
<path d="M107.90 1093.75L117.02 1096.00L126.14 1097.50L135.25 1067.50L144.37 1078.00L153.49 1066.00L162.61 1062.50L171.72 1087.50L180.84 1085.00L189.96 1060.00L199.08 1072.50L208.20 1071.00L217.31 1105.00L226.43 1102.50L235.55 1123.75L244.67 1110.00L253.78 1096.00L262.90 1106.00L272.02 1087.50L281.14 1066.00L290.26 1082.50L299.37 1087.50L308.49 1087.50L317.61 1092.50L326.73 1222.50L335.84 1219.00L344.96 1227.50L354.08 1242.50L363.20 1214.00L372.32 1240.00L381.43 1262.50L390.55 1222.50L399.67 1207.50L408.79 1210.00L417.90 1244.00L427.02 1250.00L436.14 1242.50L445.26 1247.50L454.38 1252.50L463.49 1237.50L472.61 1210.50L481.73 1251.00L490.85 1252.50L499.96 1242.50L509.08 1230.00L518.20 1249.00L527.32 1266.00L536.44 1232.50L545.55 1254.00L554.67 1219.00L563.79 1245.00L572.91 1246.00L582.02 1254.00L591.14 1244.00L600.26 1244.00L609.38 1265.00L618.50 1265.00L627.61 1216.00L636.73 1229.00L645.85 1254.00L654.97 1256.00L664.08 1241.00L673.20 1236.00L682.32 1246.00L691.44 1265.00L700.56 1234.00L709.67 1231.00L718.79 1237.50L727.91 1230.00L737.03 1241.00L746.14 1217.50L755.26 1225.00L764.38 1262.50L773.50 1266.00L782.62 1254.00L791.73 1262.50L800.85 1251.00L809.97 1255.00L819.09 1249.00L828.20 1267.50L837.32 1270.00L846.44 1270.00L855.56 1256.00L864.68 1269.00L873.79 1274.00L882.91 1136.00L892.03 1135.00L901.15 1150.00L910.26 1142.50L919.38 1152.50L928.50 1136.00L937.62 1132.50L946.74 1137.50L955.85 1142.50L964.97 1152.50L974.09 1109.00L983.21 1127.50L992.32 1150.00L1001.44 1152.50L1010.56 1124.00L1019.68 1122.50L1028.80 957.50L1037.91 950.00L1047.03 927.50L1056.15 934.00L1065.27 930.00L1074.38 935.00L1083.50 929.00L1092.62 929.00L1101.74 925.00L1110.86 941.00L1119.97 936.00L1129.09 950.00L1138.21 944.00L1147.33 955.00L1156.44 960.00L1165.56 951.00L1174.68 958.00L1183.80 940.00L1192.92 924.00L1202.03 922.50L1211.15 926.00L1220.27 899.00L1229.39 912.50L1238.50 910.00L1247.62 915.00L1256.74 941.00L1265.86 1205.00L1274.98 1186.00L1284.09 1162.50L1293.21 1146.00L1302.33 1160.00L1311.45 1175.00L1320.56 1186.00L1329.68 1165.00L1338.80 1175.00" stroke="#32a35a" stroke-width="3.3" fill="none" stroke-linejoin="round"/>
<path d="M317.61 818.20V1453.60M536.44 818.20V1453.60M755.26 818.20V1453.60M1019.68 818.20V1453.60M1147.33 818.20V1453.60M1256.74 818.20V1453.60" stroke="#2a2a2a" stroke-width="2.1" stroke-dasharray="9 8.1" fill="none"/>
<path d="M873.79 804.10V1454.60" stroke="#111" stroke-width="2.6"/>
<path d="M117.02 1454.60V1440.60M117.02 804.10V818.10M126.14 1454.60V1447.60M126.14 804.10V811.10M135.25 1454.60V1440.60M135.25 804.10V818.10M144.37 1454.60V1447.60M144.37 804.10V811.10M153.49 1454.60V1440.60M153.49 804.10V818.10M162.61 1454.60V1447.60M162.61 804.10V811.10M171.72 1454.60V1440.60M171.72 804.10V818.10M180.84 1454.60V1447.60M180.84 804.10V811.10M189.96 1454.60V1440.60M189.96 804.10V818.10M199.08 1454.60V1447.60M199.08 804.10V811.10M208.20 1454.60V1440.60M208.20 804.10V818.10M217.31 1454.60V1447.60M217.31 804.10V811.10M226.43 1454.60V1440.60M226.43 804.10V818.10M235.55 1454.60V1447.60M235.55 804.10V811.10M244.67 1454.60V1440.60M244.67 804.10V818.10M253.78 1454.60V1447.60M253.78 804.10V811.10M262.90 1454.60V1440.60M262.90 804.10V818.10M272.02 1454.60V1447.60M272.02 804.10V811.10M281.14 1454.60V1440.60M281.14 804.10V818.10M290.26 1454.60V1447.60M290.26 804.10V811.10M299.37 1454.60V1440.60M299.37 804.10V818.10M308.49 1454.60V1447.60M308.49 804.10V811.10M317.61 1454.60V1440.60M317.61 804.10V818.10M326.73 1454.60V1447.60M326.73 804.10V811.10M335.84 1454.60V1440.60M335.84 804.10V818.10M344.96 1454.60V1447.60M344.96 804.10V811.10M354.08 1454.60V1440.60M354.08 804.10V818.10M363.20 1454.60V1447.60M363.20 804.10V811.10M372.32 1454.60V1440.60M372.32 804.10V818.10M381.43 1454.60V1447.60M381.43 804.10V811.10M390.55 1454.60V1440.60M390.55 804.10V818.10M399.67 1454.60V1447.60M399.67 804.10V811.10M408.79 1454.60V1440.60M408.79 804.10V818.10M417.90 1454.60V1447.60M417.90 804.10V811.10M427.02 1454.60V1440.60M427.02 804.10V818.10M436.14 1454.60V1447.60M436.14 804.10V811.10M445.26 1454.60V1440.60M445.26 804.10V818.10M454.38 1454.60V1447.60M454.38 804.10V811.10M463.49 1454.60V1440.60M463.49 804.10V818.10M472.61 1454.60V1447.60M472.61 804.10V811.10M481.73 1454.60V1440.60M481.73 804.10V818.10M490.85 1454.60V1447.60M490.85 804.10V811.10M499.96 1454.60V1440.60M499.96 804.10V818.10M509.08 1454.60V1447.60M509.08 804.10V811.10M518.20 1454.60V1440.60M518.20 804.10V818.10M527.32 1454.60V1447.60M527.32 804.10V811.10M536.44 1454.60V1440.60M536.44 804.10V818.10M545.55 1454.60V1447.60M545.55 804.10V811.10M554.67 1454.60V1440.60M554.67 804.10V818.10M563.79 1454.60V1447.60M563.79 804.10V811.10M572.91 1454.60V1440.60M572.91 804.10V818.10M582.02 1454.60V1447.60M582.02 804.10V811.10M591.14 1454.60V1440.60M591.14 804.10V818.10M600.26 1454.60V1447.60M600.26 804.10V811.10M609.38 1454.60V1440.60M609.38 804.10V818.10M618.50 1454.60V1447.60M618.50 804.10V811.10M627.61 1454.60V1440.60M627.61 804.10V818.10M636.73 1454.60V1447.60M636.73 804.10V811.10M645.85 1454.60V1440.60M645.85 804.10V818.10M654.97 1454.60V1447.60M654.97 804.10V811.10M664.08 1454.60V1440.60M664.08 804.10V818.10M673.20 1454.60V1447.60M673.20 804.10V811.10M682.32 1454.60V1440.60M682.32 804.10V818.10M691.44 1454.60V1447.60M691.44 804.10V811.10M700.56 1454.60V1440.60M700.56 804.10V818.10M709.67 1454.60V1447.60M709.67 804.10V811.10M718.79 1454.60V1440.60M718.79 804.10V818.10M727.91 1454.60V1447.60M727.91 804.10V811.10M737.03 1454.60V1440.60M737.03 804.10V818.10M746.14 1454.60V1447.60M746.14 804.10V811.10M755.26 1454.60V1440.60M755.26 804.10V818.10M764.38 1454.60V1447.60M764.38 804.10V811.10M773.50 1454.60V1440.60M773.50 804.10V818.10M782.62 1454.60V1447.60M782.62 804.10V811.10M791.73 1454.60V1440.60M791.73 804.10V818.10M800.85 1454.60V1447.60M800.85 804.10V811.10M809.97 1454.60V1440.60M809.97 804.10V818.10M819.09 1454.60V1447.60M819.09 804.10V811.10M828.20 1454.60V1440.60M828.20 804.10V818.10M837.32 1454.60V1447.60M837.32 804.10V811.10M846.44 1454.60V1440.60M846.44 804.10V818.10M855.56 1454.60V1447.60M855.56 804.10V811.10M864.68 1454.60V1440.60M864.68 804.10V818.10M873.79 1454.60V1447.60M873.79 804.10V811.10M882.91 1454.60V1440.60M882.91 804.10V818.10M892.03 1454.60V1447.60M892.03 804.10V811.10M901.15 1454.60V1440.60M901.15 804.10V818.10M910.26 1454.60V1447.60M910.26 804.10V811.10M919.38 1454.60V1440.60M919.38 804.10V818.10M928.50 1454.60V1447.60M928.50 804.10V811.10M937.62 1454.60V1440.60M937.62 804.10V818.10M946.74 1454.60V1447.60M946.74 804.10V811.10M955.85 1454.60V1440.60M955.85 804.10V818.10M964.97 1454.60V1447.60M964.97 804.10V811.10M974.09 1454.60V1440.60M974.09 804.10V818.10M983.21 1454.60V1447.60M983.21 804.10V811.10M992.32 1454.60V1440.60M992.32 804.10V818.10M1001.44 1454.60V1447.60M1001.44 804.10V811.10M1010.56 1454.60V1440.60M1010.56 804.10V818.10M1019.68 1454.60V1447.60M1019.68 804.10V811.10M1028.80 1454.60V1440.60M1028.80 804.10V818.10M1037.91 1454.60V1447.60M1037.91 804.10V811.10M1047.03 1454.60V1440.60M1047.03 804.10V818.10M1056.15 1454.60V1447.60M1056.15 804.10V811.10M1065.27 1454.60V1440.60M1065.27 804.10V818.10M1074.38 1454.60V1447.60M1074.38 804.10V811.10M1083.50 1454.60V1440.60M1083.50 804.10V818.10M1092.62 1454.60V1447.60M1092.62 804.10V811.10M1101.74 1454.60V1440.60M1101.74 804.10V818.10M1110.86 1454.60V1447.60M1110.86 804.10V811.10M1119.97 1454.60V1440.60M1119.97 804.10V818.10M1129.09 1454.60V1447.60M1129.09 804.10V811.10M1138.21 1454.60V1440.60M1138.21 804.10V818.10M1147.33 1454.60V1447.60M1147.33 804.10V811.10M1156.44 1454.60V1440.60M1156.44 804.10V818.10M1165.56 1454.60V1447.60M1165.56 804.10V811.10M1174.68 1454.60V1440.60M1174.68 804.10V818.10M1183.80 1454.60V1447.60M1183.80 804.10V811.10M1192.92 1454.60V1440.60M1192.92 804.10V818.10M1202.03 1454.60V1447.60M1202.03 804.10V811.10M1211.15 1454.60V1440.60M1211.15 804.10V818.10M1220.27 1454.60V1447.60M1220.27 804.10V811.10M1229.39 1454.60V1440.60M1229.39 804.10V818.10M1238.50 1454.60V1447.60M1238.50 804.10V811.10M1247.62 1454.60V1440.60M1247.62 804.10V818.10M1256.74 1454.60V1447.60M1256.74 804.10V811.10M1265.86 1454.60V1440.60M1265.86 804.10V818.10M1274.98 1454.60V1447.60M1274.98 804.10V811.10M1284.09 1454.60V1440.60M1284.09 804.10V818.10M1293.21 1454.60V1447.60M1293.21 804.10V811.10M1302.33 1454.60V1440.60M1302.33 804.10V818.10M1311.45 1454.60V1447.60M1311.45 804.10V811.10M1320.56 1454.60V1440.60M1320.56 804.10V818.10M1329.68 1454.60V1447.60M1329.68 804.10V811.10M107.90 1413.94H114.90M1338.80 1413.94H1331.80M107.90 1373.29H121.90M1338.80 1373.29H1324.80M107.90 1332.63H114.90M1338.80 1332.63H1331.80M107.90 1291.97H121.90M1338.80 1291.97H1324.80M107.90 1251.32H114.90M1338.80 1251.32H1331.80M107.90 1210.66H121.90M1338.80 1210.66H1324.80M107.90 1170.01H114.90M1338.80 1170.01H1331.80M107.90 1129.35H121.90M1338.80 1129.35H1324.80M107.90 1088.69H114.90M1338.80 1088.69H1331.80M107.90 1048.04H121.90M1338.80 1048.04H1324.80M107.90 1007.38H114.90M1338.80 1007.38H1331.80M107.90 966.73H121.90M1338.80 966.73H1324.80M107.90 926.07H114.90M1338.80 926.07H1331.80M107.90 885.41H121.90M1338.80 885.41H1324.80M107.90 844.76H114.90M1338.80 844.76H1331.80" stroke="#1a1a1a" stroke-width="2.9" fill="none"/>
<rect x="107.90" y="804.10" width="1230.90" height="650.50" fill="none" stroke="#111" stroke-width="2.7"/>
<rect x="112.9" y="815.1" width="150.3" height="88.4" fill="#fff" stroke="#777" stroke-width="1.6"/>
<path d="M113.5 830H163.4" stroke="#e8413f" stroke-width="3"/>
<circle cx="138.45" cy="830" r="2" fill="#e8413f"/>
<text x="169" y="839.46" font-size="22" text-anchor="start" font-weight="normal" fill="#2a2a2a" >A Priori</text>
<path d="M113.5 857.9H163.4" stroke="#2f6fd8" stroke-width="3"/>
<circle cx="138.45" cy="857.9" r="2" fill="#2f6fd8"/>
<text x="169" y="867.36" font-size="22" text-anchor="start" font-weight="normal" fill="#2a2a2a" >Retrieved</text>
<path d="M113.5 887H163.4" stroke="#32a35a" stroke-width="3"/>
<circle cx="138.45" cy="887" r="2" fill="#32a35a"/>
<text x="169" y="896.46" font-size="22" text-anchor="start" font-weight="normal" fill="#2a2a2a" >Smoothed</text>
<text x="92.5" y="1464.1" font-size="30" text-anchor="end" font-weight="normal" fill="#1f1f1f" >398</text>
<text x="92.5" y="1382.7875" font-size="30" text-anchor="end" font-weight="normal" fill="#1f1f1f" >400</text>
<text x="92.5" y="1301.475" font-size="30" text-anchor="end" font-weight="normal" fill="#1f1f1f" >402</text>
<text x="92.5" y="1220.1625" font-size="30" text-anchor="end" font-weight="normal" fill="#1f1f1f" >404</text>
<text x="92.5" y="1138.85" font-size="30" text-anchor="end" font-weight="normal" fill="#1f1f1f" >406</text>
<text x="92.5" y="1057.5375" font-size="30" text-anchor="end" font-weight="normal" fill="#1f1f1f" >408</text>
<text x="92.5" y="976.225" font-size="30" text-anchor="end" font-weight="normal" fill="#1f1f1f" >410</text>
<text x="92.5" y="894.9125" font-size="30" text-anchor="end" font-weight="normal" fill="#1f1f1f" >412</text>
<text x="92.5" y="813.6" font-size="30" text-anchor="end" font-weight="normal" fill="#1f1f1f" >414</text>
<text transform="translate(35.5 1097.5) rotate(-90)" font-size="33.5" text-anchor="middle" fill="#1f1f1f">XCO<tspan font-size="22" dy="8">2</tspan><tspan dy="-8">(ppm)</tspan></text>
<text x="204.10000000000002" y="1474.3" font-size="21" text-anchor="middle" font-weight="normal" fill="#474747" stroke="#474747" stroke-width="0.75" textLength="29.4" lengthAdjust="spacingAndGlyphs">Jun</text>
<text x="419.29999999999995" y="1474.3" font-size="21" text-anchor="middle" font-weight="normal" fill="#474747" stroke="#474747" stroke-width="0.75" textLength="24.8" lengthAdjust="spacingAndGlyphs">Jul</text>
<text x="643.2" y="1474.3" font-size="21" text-anchor="middle" font-weight="normal" fill="#474747" stroke="#474747" stroke-width="0.75" textLength="35.4" lengthAdjust="spacingAndGlyphs">Aug</text>
<text x="819.9" y="1474.3" font-size="21" text-anchor="middle" font-weight="normal" fill="#474747" stroke="#474747" stroke-width="0.75" textLength="32.0" lengthAdjust="spacingAndGlyphs">Sep</text>
<text x="948.9" y="1474.3" font-size="21" text-anchor="middle" font-weight="normal" fill="#474747" stroke="#474747" stroke-width="0.75" textLength="31.2" lengthAdjust="spacingAndGlyphs">Oct</text>
<text x="1077.45" y="1474.3" font-size="21" text-anchor="middle" font-weight="normal" fill="#474747" stroke="#474747" stroke-width="0.75" textLength="31.1" lengthAdjust="spacingAndGlyphs">Feb</text>
<text x="1198.0" y="1474.3" font-size="21" text-anchor="middle" font-weight="normal" fill="#474747" stroke="#474747" stroke-width="0.75" textLength="33.4" lengthAdjust="spacingAndGlyphs">Mar</text>
<text x="1302.4" y="1471.8" font-size="21" text-anchor="middle" font-weight="normal" fill="#474747" stroke="#474747" stroke-width="0.75" textLength="35.8" lengthAdjust="spacingAndGlyphs">Aug</text>
<text x="128" y="1425.5" font-size="34" text-anchor="start" font-weight="normal" fill="#1a1a1a" textLength="42" lengthAdjust="spacingAndGlyphs">(<tspan font-weight="bold">b</tspan>)</text>
<text x="178.4" y="1425.5" font-size="33.5" text-anchor="start" font-weight="normal" fill="#1a1a1a" textLength="211.6" lengthAdjust="spacingAndGlyphs">East Trout Lake</text>
<text x="795" y="1430.5" font-size="36" text-anchor="start" font-weight="normal" fill="#1a1a1a" textLength="72" lengthAdjust="spacingAndGlyphs">2018</text>
<text x="1259.7" y="1432.5" font-size="36" text-anchor="start" font-weight="normal" fill="#1a1a1a" textLength="71" lengthAdjust="spacingAndGlyphs">2019</text>
<text x="658.4" y="1545" font-size="42" text-anchor="start" font-weight="normal" fill="#111" textLength="47.6" lengthAdjust="spacingAndGlyphs">(<tspan font-weight="bold" font-size="40">b</tspan>)</text>
</g>
</svg>
</body></html>
